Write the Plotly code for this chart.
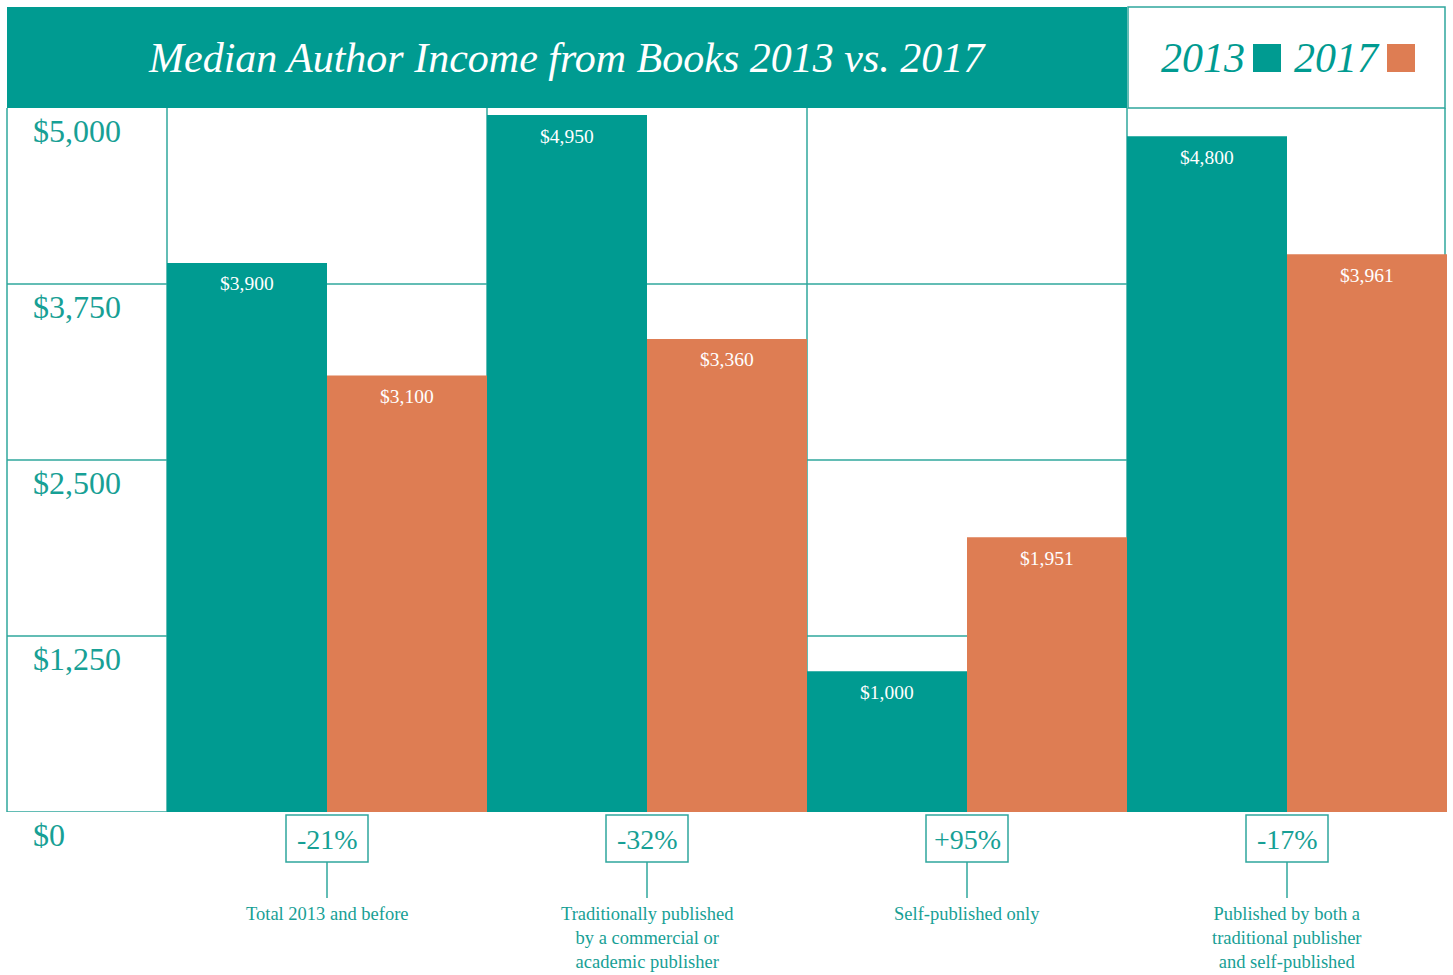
import plotly.graph_objects as go

# ---------------- data ----------------
categories = [
    "Total 2013 and before",
    "Traditionally published<br>by a commercial or<br>academic publisher",
    "Self-published only",
    "Published by both a<br>traditional publisher<br>and self-published",
]
series_names = ["2013", "2017"]
income_2013 = [3900, 4950, 1000, 4800]
income_2017 = [3100, 3360, 1951, 3961]
pct_change = ["-21%", "-32%", "+95%", "-17%"]
y_ticks = [0, 1250, 2500, 3750, 5000]
y_tick_labels = ["$0", "$1,250", "$2,500", "$3,750", "$5,000"]
title_text = "Median Author Income from Books 2013 vs. 2017"

# ---------------- style ----------------
TEAL = "#009B91"
ORANGE = "#DE7D53"
LINE = "#2FA79D"
TXT = "#17A095"
FONT = "Liberation Serif"
W, H = 1453, 975
ML, MR, MT, MB = 167, 6, 108, 163
PW = W - ML - MR
PH = H - MT - MB


def px_x(p):
    return (p - ML) / PW


n = len(categories)
fig = go.Figure()
fig.add_trace(go.Bar(x=[i - 0.25 for i in range(n)], y=income_2013, width=0.5,
                     name=series_names[0], marker=dict(color=TEAL, line=dict(width=0)),
                     hoverinfo="skip"))
fig.add_trace(go.Bar(x=[i + 0.25 for i in range(n)], y=income_2017, width=0.5,
                     name=series_names[1], marker=dict(color=ORANGE, line=dict(width=0)),
                     hoverinfo="skip"))

shapes = []
annotations = []
lw = 1.5
left = px_x(7)
right = px_x(1445)

# horizontal grid lines (extend into label column)
for t in y_ticks[:-1]:
    shapes.append(dict(type="line", xref="paper", yref="y", x0=left, x1=1, y0=t, y1=t,
                       line=dict(color=LINE, width=lw), layer="below"))
# vertical category boundaries
for b in range(n):
    shapes.append(dict(type="line", xref="paper", yref="paper", x0=b / n, x1=b / n, y0=0, y1=1,
                       line=dict(color=LINE, width=lw), layer="below"))
# left and right borders
for xx in (left, right):
    shapes.append(dict(type="line", xref="paper", yref="paper", x0=xx, x1=xx, y0=0, y1=1,
                       line=dict(color=LINE, width=lw), layer="below"))

# y labels
for t, lab in zip(y_ticks, y_tick_labels):
    annotations.append(dict(text=lab, xref="paper", x=px_x(31), xanchor="left",
                            yref="y", y=t, yanchor="middle", yshift=-23, showarrow=False,
                            font=dict(family=FONT, size=32, color=TXT)))

# bar value labels
for i in range(n):
    for off, vals in ((-0.25, income_2013), (0.25, income_2017)):
        annotations.append(dict(text=f"${vals[i]:,}", xref="x", x=i + off, xanchor="center",
                                yref="y", y=vals[i], yanchor="middle", yshift=-21,
                                showarrow=False, font=dict(family=FONT, size=19.5, color="white")))

# percent boxes, ticks and category labels
for i in range(n):
    cx = (i + 0.5) / n
    shapes.append(dict(type="rect", xref="paper", xsizemode="pixel", xanchor=cx, x0=-41, x1=41,
                       yref="paper", ysizemode="pixel", yanchor=0, y0=-3, y1=-50,
                       line=dict(color=LINE, width=lw), fillcolor="white"))
    shapes.append(dict(type="line", xref="paper", xsizemode="pixel", xanchor=cx, x0=0, x1=0,
                       yref="paper", ysizemode="pixel", yanchor=0, y0=-50, y1=-86,
                       line=dict(color=LINE, width=lw)))
    annotations.append(dict(text=pct_change[i], xref="paper", x=cx, xanchor="center",
                            yref="paper", y=0, yanchor="middle", yshift=-27, showarrow=False,
                            font=dict(family=FONT, size=28, color=TXT)))
    annotations.append(dict(text=categories[i], xref="paper", x=cx, xanchor="center",
                            yref="paper", y=0, yanchor="top", yshift=-90, showarrow=False,
                            align="center", font=dict(family=FONT, size=18.5, color=TXT)))

# title bar
shapes.append(dict(type="rect", xref="paper", x0=left, x1=px_x(1127),
                   yref="paper", ysizemode="pixel", yanchor=1, y0=0, y1=101,
                   line=dict(width=0), fillcolor=TEAL))
annotations.append(dict(text=f"<i>{title_text}</i>", xref="paper", x=px_x(567), xanchor="center",
                        yref="paper", y=1, yanchor="middle", yshift=50, showarrow=False,
                        font=dict(family=FONT, size=42, color="white")))
# legend box
shapes.append(dict(type="rect", xref="paper", x0=px_x(1128), x1=right,
                   yref="paper", ysizemode="pixel", yanchor=1, y0=0, y1=101,
                   line=dict(color=LINE, width=lw), fillcolor="white"))
for name, col, txt_r, sq_l in ((series_names[0], TEAL, 1247, 1253), (series_names[1], ORANGE, 1382, 1387)):
    annotations.append(dict(text=f"<i>{name}</i>", xref="paper", x=px_x(txt_r), xanchor="right",
                            yref="paper", y=1, yanchor="middle", yshift=50, showarrow=False,
                            font=dict(family=FONT, size=42, color=TEAL)))
    shapes.append(dict(type="rect", xref="paper", x0=px_x(sq_l), x1=px_x(sq_l + 28),
                       yref="paper", ysizemode="pixel", yanchor=1, y0=36, y1=64,
                       line=dict(width=0), fillcolor=col))

fig.update_layout(
    width=W, height=H,
    margin=dict(l=ML, r=MR, t=MT, b=MB, pad=0),
    paper_bgcolor="white", plot_bgcolor="white",
    showlegend=False,
    barmode="overlay",
    xaxis=dict(range=[-0.5, n - 0.5], visible=False, fixedrange=True),
    yaxis=dict(range=[0, 5000], visible=False, fixedrange=True),
    shapes=shapes, annotations=annotations,
)

fig.write_html("out.html", config={"displayModeBar": False},
               post_script="document.body.style.margin='0';")
